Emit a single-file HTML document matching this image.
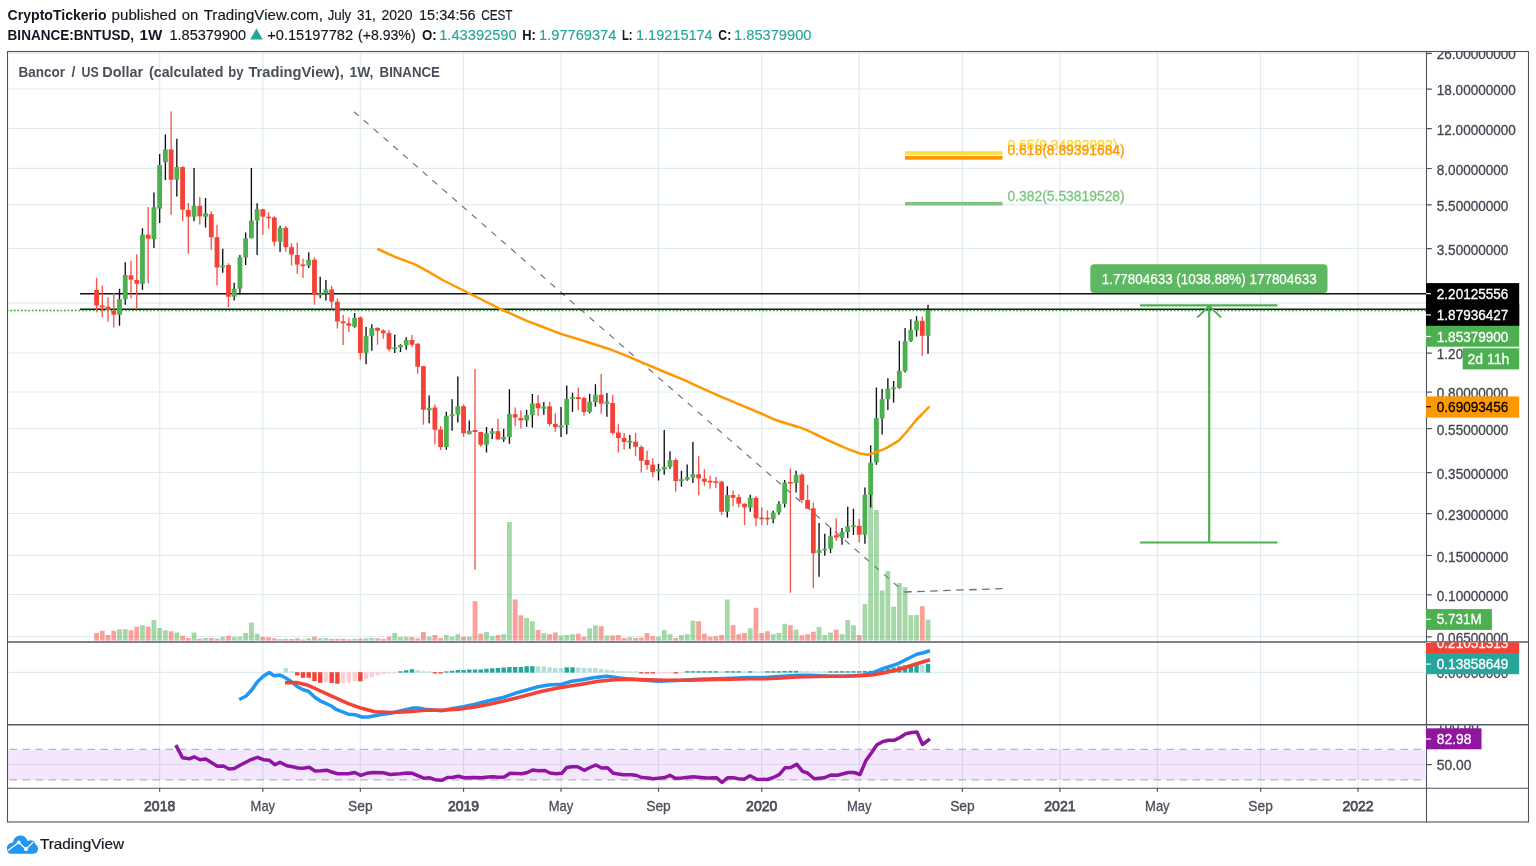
<!DOCTYPE html>
<html lang="en"><head><meta charset="utf-8"><title>BNTUSD chart</title>
<style>html,body{margin:0;padding:0;background:#fff;}body{width:1536px;height:866px;overflow:hidden;}svg{display:block;}</style></head>
<body>
<svg width="1536" height="866" viewBox="0 0 1536 866" font-family='"Liberation Sans", sans-serif'>
<defs><clipPath id="cm"><rect x="7.5" y="51.5" width="1419.0" height="590.5"/></clipPath><clipPath id="ca1"><rect x="1426.5" y="52.0" width="102.0" height="589.5"/></clipPath><clipPath id="ca2"><rect x="1425.5" y="642.6" width="102.0" height="81.79999999999995"/></clipPath><clipPath id="ca3"><rect x="1426.5" y="725.5" width="102.0" height="62.40000000000009"/></clipPath></defs>
<rect x="0" y="0" width="1536" height="866" fill="#fff"/>
<g stroke="#e1ecf2" stroke-width="1.2">
<line x1="159.65" y1="51.5" x2="159.65" y2="788.2"/>
<line x1="262.86" y1="51.5" x2="262.86" y2="788.2"/>
<line x1="360.34" y1="51.5" x2="360.34" y2="788.2"/>
<line x1="463.55" y1="51.5" x2="463.55" y2="788.2"/>
<line x1="561.03" y1="51.5" x2="561.03" y2="788.2"/>
<line x1="658.51" y1="51.5" x2="658.51" y2="788.2"/>
<line x1="761.72" y1="51.5" x2="761.72" y2="788.2"/>
<line x1="859.2" y1="51.5" x2="859.2" y2="788.2"/>
<line x1="962.41" y1="51.5" x2="962.41" y2="788.2"/>
<line x1="1059.89" y1="51.5" x2="1059.89" y2="788.2"/>
<line x1="1157.37" y1="51.5" x2="1157.37" y2="788.2"/>
<line x1="1260.58" y1="51.5" x2="1260.58" y2="788.2"/>
<line x1="1358.06" y1="51.5" x2="1358.06" y2="788.2"/>
<line x1="7.5" y1="53.1" x2="1426.5" y2="53.1"/>
<line x1="7.5" y1="89" x2="1426.5" y2="89"/>
<line x1="7.5" y1="128.5" x2="1426.5" y2="128.5"/>
<line x1="7.5" y1="168.3" x2="1426.5" y2="168.3"/>
<line x1="7.5" y1="204.7" x2="1426.5" y2="204.7"/>
<line x1="7.5" y1="248.5" x2="1426.5" y2="248.5"/>
<line x1="7.5" y1="303.1" x2="1426.5" y2="303.1"/>
<line x1="7.5" y1="353" x2="1426.5" y2="353"/>
<line x1="7.5" y1="392" x2="1426.5" y2="392"/>
<line x1="7.5" y1="428.3" x2="1426.5" y2="428.3"/>
<line x1="7.5" y1="472.5" x2="1426.5" y2="472.5"/>
<line x1="7.5" y1="513.5" x2="1426.5" y2="513.5"/>
<line x1="7.5" y1="555.3" x2="1426.5" y2="555.3"/>
<line x1="7.5" y1="594.5" x2="1426.5" y2="594.5"/>
<line x1="7.5" y1="636.5" x2="1426.5" y2="636.5"/>
<line x1="7.5" y1="672.3" x2="1426.5" y2="672.3"/>
</g>
<rect x="7.5" y="749.6" width="1417.5" height="30.4" fill="#f4e6fd"/>
<line x1="7.5" y1="764.4" x2="1426.5" y2="764.4" stroke="#d9d5f3" stroke-width="1"/>
<g stroke="#d7d2ee" stroke-width="1.2">
<line x1="159.65" y1="749.6" x2="159.65" y2="780"/>
<line x1="262.86" y1="749.6" x2="262.86" y2="780"/>
<line x1="360.34" y1="749.6" x2="360.34" y2="780"/>
<line x1="463.55" y1="749.6" x2="463.55" y2="780"/>
<line x1="561.03" y1="749.6" x2="561.03" y2="780"/>
<line x1="658.51" y1="749.6" x2="658.51" y2="780"/>
<line x1="761.72" y1="749.6" x2="761.72" y2="780"/>
<line x1="859.2" y1="749.6" x2="859.2" y2="780"/>
<line x1="962.41" y1="749.6" x2="962.41" y2="780"/>
<line x1="1059.89" y1="749.6" x2="1059.89" y2="780"/>
<line x1="1157.37" y1="749.6" x2="1157.37" y2="780"/>
<line x1="1260.58" y1="749.6" x2="1260.58" y2="780"/>
<line x1="1358.06" y1="749.6" x2="1358.06" y2="780"/>
</g>
<line x1="7.5" y1="749.4" x2="1425.5" y2="749.4" stroke="#b9b4bd" stroke-width="1.2" stroke-dasharray="7.5 5.5" stroke-dashoffset="-2"/>
<line x1="7.5" y1="779.9" x2="1425.5" y2="779.9" stroke="#b9b4bd" stroke-width="1.2" stroke-dasharray="7.5 5.5" stroke-dashoffset="-2"/>
<line x1="354" y1="111.7" x2="904.2" y2="592" stroke="#6c6f7a" stroke-width="1.15" stroke-dasharray="6.3 6.73"/>
<line x1="904.2" y1="592" x2="1002.5" y2="588.6" stroke="#6c6f7a" stroke-width="1.3" stroke-dasharray="7.5 5.5"/>
<g>
<rect x="94.18" y="633" width="4.8" height="7.6" fill="rgba(244,67,54,0.5)"/>
<rect x="99.91" y="630.8" width="4.8" height="9.8" fill="rgba(244,67,54,0.5)"/>
<rect x="105.64" y="635" width="4.8" height="5.6" fill="rgba(244,67,54,0.5)"/>
<rect x="111.38" y="630.8" width="4.8" height="9.8" fill="rgba(244,67,54,0.5)"/>
<rect x="117.11" y="629.2" width="4.8" height="11.4" fill="rgba(76,175,80,0.5)"/>
<rect x="122.85" y="629.2" width="4.8" height="11.4" fill="rgba(76,175,80,0.5)"/>
<rect x="128.58" y="630.3" width="4.8" height="10.3" fill="rgba(244,67,54,0.5)"/>
<rect x="134.31" y="626.7" width="4.8" height="13.9" fill="rgba(244,67,54,0.5)"/>
<rect x="140.05" y="625.3" width="4.8" height="15.3" fill="rgba(76,175,80,0.5)"/>
<rect x="145.78" y="626.7" width="4.8" height="13.9" fill="rgba(244,67,54,0.5)"/>
<rect x="151.52" y="620" width="4.8" height="20.6" fill="rgba(76,175,80,0.5)"/>
<rect x="157.25" y="628" width="4.8" height="12.6" fill="rgba(76,175,80,0.5)"/>
<rect x="162.98" y="630.3" width="4.8" height="10.3" fill="rgba(76,175,80,0.5)"/>
<rect x="168.72" y="631.3" width="4.8" height="9.3" fill="rgba(244,67,54,0.5)"/>
<rect x="174.45" y="632.5" width="4.8" height="8.1" fill="rgba(76,175,80,0.5)"/>
<rect x="180.19" y="635.8" width="4.8" height="4.8" fill="rgba(244,67,54,0.5)"/>
<rect x="185.92" y="638" width="4.8" height="2.6" fill="rgba(244,67,54,0.5)"/>
<rect x="191.65" y="632.5" width="4.8" height="8.1" fill="rgba(76,175,80,0.5)"/>
<rect x="197.39" y="638.7" width="4.8" height="1.9" fill="rgba(244,67,54,0.5)"/>
<rect x="203.12" y="638" width="4.8" height="2.6" fill="rgba(76,175,80,0.5)"/>
<rect x="208.86" y="638" width="4.8" height="2.6" fill="rgba(244,67,54,0.5)"/>
<rect x="214.59" y="638.7" width="4.8" height="1.9" fill="rgba(244,67,54,0.5)"/>
<rect x="220.32" y="636.7" width="4.8" height="3.9" fill="rgba(76,175,80,0.5)"/>
<rect x="226.06" y="635.8" width="4.8" height="4.8" fill="rgba(244,67,54,0.5)"/>
<rect x="231.79" y="637" width="4.8" height="3.6" fill="rgba(76,175,80,0.5)"/>
<rect x="237.53" y="636.7" width="4.8" height="3.9" fill="rgba(76,175,80,0.5)"/>
<rect x="243.26" y="633" width="4.8" height="7.6" fill="rgba(76,175,80,0.5)"/>
<rect x="248.99" y="622.5" width="4.8" height="18.1" fill="rgba(76,175,80,0.5)"/>
<rect x="254.73" y="633.8" width="4.8" height="6.8" fill="rgba(76,175,80,0.5)"/>
<rect x="260.46" y="636.7" width="4.8" height="3.9" fill="rgba(244,67,54,0.5)"/>
<rect x="266.2" y="637.2" width="4.8" height="3.4" fill="rgba(244,67,54,0.5)"/>
<rect x="271.93" y="638.3" width="4.8" height="2.3" fill="rgba(244,67,54,0.5)"/>
<rect x="277.66" y="639" width="4.8" height="1.6" fill="rgba(76,175,80,0.5)"/>
<rect x="283.4" y="639" width="4.8" height="1.6" fill="rgba(244,67,54,0.5)"/>
<rect x="289.13" y="639" width="4.8" height="1.6" fill="rgba(244,67,54,0.5)"/>
<rect x="294.87" y="638.3" width="4.8" height="2.3" fill="rgba(244,67,54,0.5)"/>
<rect x="300.6" y="639.5" width="4.8" height="1.1" fill="rgba(244,67,54,0.5)"/>
<rect x="306.33" y="638.3" width="4.8" height="2.3" fill="rgba(76,175,80,0.5)"/>
<rect x="312.07" y="636.7" width="4.8" height="3.9" fill="rgba(244,67,54,0.5)"/>
<rect x="317.8" y="638.3" width="4.8" height="2.3" fill="rgba(76,175,80,0.5)"/>
<rect x="323.54" y="638" width="4.8" height="2.6" fill="rgba(76,175,80,0.5)"/>
<rect x="329.27" y="638.8" width="4.8" height="1.8" fill="rgba(244,67,54,0.5)"/>
<rect x="335" y="638.8" width="4.8" height="1.8" fill="rgba(244,67,54,0.5)"/>
<rect x="340.74" y="638.8" width="4.8" height="1.8" fill="rgba(244,67,54,0.5)"/>
<rect x="346.47" y="639.2" width="4.8" height="1.4" fill="rgba(244,67,54,0.5)"/>
<rect x="352.21" y="638.8" width="4.8" height="1.8" fill="rgba(76,175,80,0.5)"/>
<rect x="357.94" y="638.7" width="4.8" height="1.9" fill="rgba(244,67,54,0.5)"/>
<rect x="363.67" y="638.3" width="4.8" height="2.3" fill="rgba(76,175,80,0.5)"/>
<rect x="369.41" y="637.8" width="4.8" height="2.8" fill="rgba(76,175,80,0.5)"/>
<rect x="375.14" y="638.3" width="4.8" height="2.3" fill="rgba(244,67,54,0.5)"/>
<rect x="380.88" y="638.8" width="4.8" height="1.8" fill="rgba(244,67,54,0.5)"/>
<rect x="386.61" y="636.7" width="4.8" height="3.9" fill="rgba(244,67,54,0.5)"/>
<rect x="392.34" y="633" width="4.8" height="7.6" fill="rgba(76,175,80,0.5)"/>
<rect x="398.08" y="637" width="4.8" height="3.6" fill="rgba(76,175,80,0.5)"/>
<rect x="403.81" y="636.7" width="4.8" height="3.9" fill="rgba(76,175,80,0.5)"/>
<rect x="409.55" y="637" width="4.8" height="3.6" fill="rgba(244,67,54,0.5)"/>
<rect x="415.28" y="638.3" width="4.8" height="2.3" fill="rgba(244,67,54,0.5)"/>
<rect x="421.01" y="632" width="4.8" height="8.6" fill="rgba(244,67,54,0.5)"/>
<rect x="426.75" y="636.7" width="4.8" height="3.9" fill="rgba(76,175,80,0.5)"/>
<rect x="432.48" y="635" width="4.8" height="5.6" fill="rgba(244,67,54,0.5)"/>
<rect x="438.22" y="638" width="4.8" height="2.6" fill="rgba(244,67,54,0.5)"/>
<rect x="443.95" y="635" width="4.8" height="5.6" fill="rgba(76,175,80,0.5)"/>
<rect x="449.68" y="636.7" width="4.8" height="3.9" fill="rgba(76,175,80,0.5)"/>
<rect x="455.42" y="634.2" width="4.8" height="6.4" fill="rgba(76,175,80,0.5)"/>
<rect x="461.15" y="636.7" width="4.8" height="3.9" fill="rgba(244,67,54,0.5)"/>
<rect x="466.89" y="636.7" width="4.8" height="3.9" fill="rgba(76,175,80,0.5)"/>
<rect x="472.62" y="601.2" width="4.8" height="39.4" fill="rgba(244,67,54,0.5)"/>
<rect x="478.35" y="633.7" width="4.8" height="6.9" fill="rgba(244,67,54,0.5)"/>
<rect x="484.09" y="632" width="4.8" height="8.6" fill="rgba(76,175,80,0.5)"/>
<rect x="489.82" y="636.2" width="4.8" height="4.4" fill="rgba(76,175,80,0.5)"/>
<rect x="495.56" y="635" width="4.8" height="5.6" fill="rgba(244,67,54,0.5)"/>
<rect x="501.29" y="634.2" width="4.8" height="6.4" fill="rgba(76,175,80,0.5)"/>
<rect x="507.02" y="522" width="4.8" height="118.6" fill="rgba(76,175,80,0.5)"/>
<rect x="512.76" y="599.5" width="4.8" height="41.1" fill="rgba(244,67,54,0.5)"/>
<rect x="518.49" y="615.3" width="4.8" height="25.3" fill="rgba(244,67,54,0.5)"/>
<rect x="524.23" y="618" width="4.8" height="22.6" fill="rgba(76,175,80,0.5)"/>
<rect x="529.96" y="621.3" width="4.8" height="19.3" fill="rgba(76,175,80,0.5)"/>
<rect x="535.69" y="630" width="4.8" height="10.6" fill="rgba(244,67,54,0.5)"/>
<rect x="541.43" y="633" width="4.8" height="7.6" fill="rgba(76,175,80,0.5)"/>
<rect x="547.16" y="634.2" width="4.8" height="6.4" fill="rgba(244,67,54,0.5)"/>
<rect x="552.9" y="632.5" width="4.8" height="8.1" fill="rgba(244,67,54,0.5)"/>
<rect x="558.63" y="635.5" width="4.8" height="5.1" fill="rgba(76,175,80,0.5)"/>
<rect x="564.36" y="635" width="4.8" height="5.6" fill="rgba(76,175,80,0.5)"/>
<rect x="570.1" y="634.2" width="4.8" height="6.4" fill="rgba(76,175,80,0.5)"/>
<rect x="575.83" y="633.7" width="4.8" height="6.9" fill="rgba(244,67,54,0.5)"/>
<rect x="581.57" y="636.7" width="4.8" height="3.9" fill="rgba(244,67,54,0.5)"/>
<rect x="587.3" y="628.3" width="4.8" height="12.3" fill="rgba(76,175,80,0.5)"/>
<rect x="593.03" y="625.3" width="4.8" height="15.3" fill="rgba(76,175,80,0.5)"/>
<rect x="598.77" y="626.2" width="4.8" height="14.4" fill="rgba(244,67,54,0.5)"/>
<rect x="604.5" y="635.5" width="4.8" height="5.1" fill="rgba(76,175,80,0.5)"/>
<rect x="610.24" y="635.5" width="4.8" height="5.1" fill="rgba(244,67,54,0.5)"/>
<rect x="615.97" y="635" width="4.8" height="5.6" fill="rgba(244,67,54,0.5)"/>
<rect x="621.7" y="638" width="4.8" height="2.6" fill="rgba(244,67,54,0.5)"/>
<rect x="627.44" y="637.2" width="4.8" height="3.4" fill="rgba(76,175,80,0.5)"/>
<rect x="633.17" y="638" width="4.8" height="2.6" fill="rgba(244,67,54,0.5)"/>
<rect x="638.91" y="637.5" width="4.8" height="3.1" fill="rgba(244,67,54,0.5)"/>
<rect x="644.64" y="633" width="4.8" height="7.6" fill="rgba(244,67,54,0.5)"/>
<rect x="650.37" y="636.2" width="4.8" height="4.4" fill="rgba(244,67,54,0.5)"/>
<rect x="656.11" y="636.7" width="4.8" height="3.9" fill="rgba(76,175,80,0.5)"/>
<rect x="661.84" y="630" width="4.8" height="10.6" fill="rgba(76,175,80,0.5)"/>
<rect x="667.58" y="634.2" width="4.8" height="6.4" fill="rgba(76,175,80,0.5)"/>
<rect x="673.31" y="638" width="4.8" height="2.6" fill="rgba(244,67,54,0.5)"/>
<rect x="679.04" y="635" width="4.8" height="5.6" fill="rgba(76,175,80,0.5)"/>
<rect x="684.78" y="634.2" width="4.8" height="6.4" fill="rgba(76,175,80,0.5)"/>
<rect x="690.51" y="620.8" width="4.8" height="19.8" fill="rgba(76,175,80,0.5)"/>
<rect x="696.25" y="621.3" width="4.8" height="19.3" fill="rgba(244,67,54,0.5)"/>
<rect x="701.98" y="633.7" width="4.8" height="6.9" fill="rgba(244,67,54,0.5)"/>
<rect x="707.71" y="636.7" width="4.8" height="3.9" fill="rgba(244,67,54,0.5)"/>
<rect x="713.45" y="636.2" width="4.8" height="4.4" fill="rgba(244,67,54,0.5)"/>
<rect x="719.18" y="635" width="4.8" height="5.6" fill="rgba(244,67,54,0.5)"/>
<rect x="724.92" y="599.5" width="4.8" height="41.1" fill="rgba(76,175,80,0.5)"/>
<rect x="730.65" y="625" width="4.8" height="15.6" fill="rgba(244,67,54,0.5)"/>
<rect x="736.38" y="634.2" width="4.8" height="6.4" fill="rgba(244,67,54,0.5)"/>
<rect x="742.12" y="633" width="4.8" height="7.6" fill="rgba(244,67,54,0.5)"/>
<rect x="747.85" y="628.3" width="4.8" height="12.3" fill="rgba(76,175,80,0.5)"/>
<rect x="753.59" y="607.8" width="4.8" height="32.8" fill="rgba(244,67,54,0.5)"/>
<rect x="759.32" y="633" width="4.8" height="7.6" fill="rgba(244,67,54,0.5)"/>
<rect x="765.05" y="631.2" width="4.8" height="9.4" fill="rgba(244,67,54,0.5)"/>
<rect x="770.79" y="634.2" width="4.8" height="6.4" fill="rgba(76,175,80,0.5)"/>
<rect x="776.52" y="633" width="4.8" height="7.6" fill="rgba(76,175,80,0.5)"/>
<rect x="782.26" y="623.8" width="4.8" height="16.8" fill="rgba(76,175,80,0.5)"/>
<rect x="787.99" y="625.3" width="4.8" height="15.3" fill="rgba(244,67,54,0.5)"/>
<rect x="793.72" y="629.7" width="4.8" height="10.9" fill="rgba(76,175,80,0.5)"/>
<rect x="799.46" y="635.3" width="4.8" height="5.3" fill="rgba(244,67,54,0.5)"/>
<rect x="805.19" y="634.2" width="4.8" height="6.4" fill="rgba(244,67,54,0.5)"/>
<rect x="810.93" y="631.7" width="4.8" height="8.9" fill="rgba(244,67,54,0.5)"/>
<rect x="816.66" y="627" width="4.8" height="13.6" fill="rgba(76,175,80,0.5)"/>
<rect x="822.39" y="635" width="4.8" height="5.6" fill="rgba(76,175,80,0.5)"/>
<rect x="828.13" y="632.5" width="4.8" height="8.1" fill="rgba(76,175,80,0.5)"/>
<rect x="833.86" y="629.7" width="4.8" height="10.9" fill="rgba(244,67,54,0.5)"/>
<rect x="839.6" y="634.2" width="4.8" height="6.4" fill="rgba(76,175,80,0.5)"/>
<rect x="845.33" y="620" width="4.8" height="20.6" fill="rgba(76,175,80,0.5)"/>
<rect x="851.06" y="625.3" width="4.8" height="15.3" fill="rgba(76,175,80,0.5)"/>
<rect x="856.8" y="635" width="4.8" height="5.6" fill="rgba(244,67,54,0.5)"/>
<rect x="862.53" y="604.2" width="4.8" height="36.4" fill="rgba(76,175,80,0.5)"/>
<rect x="868.27" y="492" width="4.8" height="148.6" fill="rgba(76,175,80,0.5)"/>
<rect x="874" y="510" width="4.8" height="130.6" fill="rgba(76,175,80,0.5)"/>
<rect x="879.73" y="590.5" width="4.8" height="50.1" fill="rgba(76,175,80,0.5)"/>
<rect x="885.47" y="571.2" width="4.8" height="69.4" fill="rgba(76,175,80,0.5)"/>
<rect x="891.2" y="606.7" width="4.8" height="33.9" fill="rgba(76,175,80,0.5)"/>
<rect x="896.94" y="583" width="4.8" height="57.6" fill="rgba(76,175,80,0.5)"/>
<rect x="902.67" y="587.2" width="4.8" height="53.4" fill="rgba(76,175,80,0.5)"/>
<rect x="908.4" y="615" width="4.8" height="25.6" fill="rgba(76,175,80,0.5)"/>
<rect x="914.14" y="615" width="4.8" height="25.6" fill="rgba(76,175,80,0.5)"/>
<rect x="919.87" y="606.2" width="4.8" height="34.4" fill="rgba(244,67,54,0.5)"/>
<rect x="925.61" y="619.7" width="4.8" height="20.9" fill="rgba(76,175,80,0.5)"/>
</g>
<line x1="80" y1="293.7" x2="1426.5" y2="293.7" stroke="#111" stroke-width="1.35"/>
<line x1="80" y1="309.25" x2="1426.5" y2="309.25" stroke="#111" stroke-width="1.45"/>
<line x1="7.5" y1="310.5" x2="1426.5" y2="310.5" stroke="#35a53a" stroke-width="1.3" stroke-dasharray="1.8 1.78" stroke-dashoffset="0.8"/>
<g clip-path="url(#cm)">
<g stroke-width="1.35">
<line x1="96.58" y1="277.8" x2="96.58" y2="312.5" stroke="#f5554a"/>
<line x1="102.31" y1="285.5" x2="102.31" y2="317" stroke="#f5554a"/>
<line x1="108.04" y1="297.2" x2="108.04" y2="321.7" stroke="#f5554a"/>
<line x1="113.78" y1="293" x2="113.78" y2="327.5" stroke="#f5554a"/>
<line x1="119.51" y1="288.7" x2="119.51" y2="325.8" stroke="#0d0f14"/>
<line x1="125.25" y1="262.2" x2="125.25" y2="304.7" stroke="#0d0f14"/>
<line x1="130.98" y1="260.8" x2="130.98" y2="298.3" stroke="#f5554a"/>
<line x1="136.71" y1="254.2" x2="136.71" y2="309.3" stroke="#f5554a"/>
<line x1="142.45" y1="228.3" x2="142.45" y2="289.7" stroke="#0d0f14"/>
<line x1="148.18" y1="207" x2="148.18" y2="283.3" stroke="#f5554a"/>
<line x1="153.92" y1="192.5" x2="153.92" y2="248" stroke="#0d0f14"/>
<line x1="159.65" y1="154.1" x2="159.65" y2="223" stroke="#0d0f14"/>
<line x1="165.38" y1="134.4" x2="165.38" y2="180" stroke="#0d0f14"/>
<line x1="171.12" y1="111.5" x2="171.12" y2="214.7" stroke="#f5554a"/>
<line x1="176.85" y1="138.75" x2="176.85" y2="196.6" stroke="#0d0f14"/>
<line x1="182.59" y1="166.25" x2="182.59" y2="221.3" stroke="#f5554a"/>
<line x1="188.32" y1="203.1" x2="188.32" y2="253.7" stroke="#f5554a"/>
<line x1="194.05" y1="167.9" x2="194.05" y2="221.3" stroke="#0d0f14"/>
<line x1="199.79" y1="196.9" x2="199.79" y2="224.5" stroke="#f5554a"/>
<line x1="205.52" y1="198.1" x2="205.52" y2="227.5" stroke="#0d0f14"/>
<line x1="211.26" y1="211.2" x2="211.26" y2="249.7" stroke="#f5554a"/>
<line x1="216.99" y1="224.7" x2="216.99" y2="285.3" stroke="#f5554a"/>
<line x1="222.72" y1="248.8" x2="222.72" y2="272.8" stroke="#0d0f14"/>
<line x1="228.46" y1="263.3" x2="228.46" y2="307.2" stroke="#f5554a"/>
<line x1="234.19" y1="282.8" x2="234.19" y2="300.5" stroke="#0d0f14"/>
<line x1="239.93" y1="255" x2="239.93" y2="294.7" stroke="#0d0f14"/>
<line x1="245.66" y1="232.5" x2="245.66" y2="265" stroke="#0d0f14"/>
<line x1="251.39" y1="167.9" x2="251.39" y2="238.3" stroke="#0d0f14"/>
<line x1="257.13" y1="203.3" x2="257.13" y2="255" stroke="#0d0f14"/>
<line x1="262.86" y1="208.7" x2="262.86" y2="234.7" stroke="#f5554a"/>
<line x1="268.6" y1="212.2" x2="268.6" y2="228.7" stroke="#f5554a"/>
<line x1="274.33" y1="216.3" x2="274.33" y2="246.3" stroke="#f5554a"/>
<line x1="280.06" y1="225.8" x2="280.06" y2="252" stroke="#0d0f14"/>
<line x1="285.8" y1="225.8" x2="285.8" y2="251.7" stroke="#f5554a"/>
<line x1="291.53" y1="243.3" x2="291.53" y2="265.5" stroke="#f5554a"/>
<line x1="297.27" y1="242.5" x2="297.27" y2="273.8" stroke="#f5554a"/>
<line x1="303" y1="258.8" x2="303" y2="278" stroke="#f5554a"/>
<line x1="308.73" y1="252.2" x2="308.73" y2="268" stroke="#0d0f14"/>
<line x1="314.47" y1="257.5" x2="314.47" y2="304.7" stroke="#f5554a"/>
<line x1="320.2" y1="276.7" x2="320.2" y2="298.3" stroke="#0d0f14"/>
<line x1="325.94" y1="280" x2="325.94" y2="300.5" stroke="#0d0f14"/>
<line x1="331.67" y1="285.8" x2="331.67" y2="309.2" stroke="#f5554a"/>
<line x1="337.4" y1="298.3" x2="337.4" y2="328.5" stroke="#f5554a"/>
<line x1="343.14" y1="315" x2="343.14" y2="345" stroke="#f5554a"/>
<line x1="348.87" y1="317.5" x2="348.87" y2="332" stroke="#f5554a"/>
<line x1="354.61" y1="313" x2="354.61" y2="327.7" stroke="#0d0f14"/>
<line x1="360.34" y1="316.3" x2="360.34" y2="359.7" stroke="#f5554a"/>
<line x1="366.07" y1="327" x2="366.07" y2="364.2" stroke="#0d0f14"/>
<line x1="371.81" y1="324.2" x2="371.81" y2="350.8" stroke="#0d0f14"/>
<line x1="377.54" y1="327" x2="377.54" y2="344.7" stroke="#f5554a"/>
<line x1="383.28" y1="329.2" x2="383.28" y2="338.7" stroke="#f5554a"/>
<line x1="389.01" y1="330" x2="389.01" y2="351.3" stroke="#f5554a"/>
<line x1="394.74" y1="334.7" x2="394.74" y2="353" stroke="#0d0f14"/>
<line x1="400.48" y1="344.2" x2="400.48" y2="352" stroke="#0d0f14"/>
<line x1="406.21" y1="337.2" x2="406.21" y2="349.7" stroke="#0d0f14"/>
<line x1="411.95" y1="335" x2="411.95" y2="346.7" stroke="#f5554a"/>
<line x1="417.68" y1="343" x2="417.68" y2="373.7" stroke="#f5554a"/>
<line x1="423.41" y1="365.8" x2="423.41" y2="424.7" stroke="#f5554a"/>
<line x1="429.15" y1="395.6" x2="429.15" y2="423.3" stroke="#0d0f14"/>
<line x1="434.88" y1="404.5" x2="434.88" y2="444.2" stroke="#f5554a"/>
<line x1="440.62" y1="426" x2="440.62" y2="450" stroke="#f5554a"/>
<line x1="446.35" y1="411.7" x2="446.35" y2="449.7" stroke="#0d0f14"/>
<line x1="452.08" y1="399.2" x2="452.08" y2="430.8" stroke="#0d0f14"/>
<line x1="457.82" y1="376.5" x2="457.82" y2="422.5" stroke="#0d0f14"/>
<line x1="463.55" y1="404.5" x2="463.55" y2="436.7" stroke="#f5554a"/>
<line x1="469.29" y1="420.5" x2="469.29" y2="434.2" stroke="#0d0f14"/>
<line x1="475.02" y1="369" x2="475.02" y2="569.7" stroke="#f5554a"/>
<line x1="480.75" y1="431.7" x2="480.75" y2="446.7" stroke="#f5554a"/>
<line x1="486.49" y1="427.1" x2="486.49" y2="452.5" stroke="#0d0f14"/>
<line x1="492.22" y1="428.2" x2="492.22" y2="439.2" stroke="#0d0f14"/>
<line x1="497.96" y1="418.8" x2="497.96" y2="439.5" stroke="#f5554a"/>
<line x1="503.69" y1="428.8" x2="503.69" y2="442" stroke="#0d0f14"/>
<line x1="509.42" y1="389.2" x2="509.42" y2="443.8" stroke="#0d0f14"/>
<line x1="515.16" y1="407.5" x2="515.16" y2="426.3" stroke="#f5554a"/>
<line x1="520.89" y1="410.4" x2="520.89" y2="428.5" stroke="#f5554a"/>
<line x1="526.63" y1="409.8" x2="526.63" y2="426.8" stroke="#0d0f14"/>
<line x1="532.36" y1="394" x2="532.36" y2="427.6" stroke="#0d0f14"/>
<line x1="538.09" y1="395" x2="538.09" y2="416.2" stroke="#f5554a"/>
<line x1="543.83" y1="402" x2="543.83" y2="414.8" stroke="#0d0f14"/>
<line x1="549.56" y1="401.7" x2="549.56" y2="426.3" stroke="#f5554a"/>
<line x1="555.3" y1="413.2" x2="555.3" y2="431.8" stroke="#f5554a"/>
<line x1="561.03" y1="407" x2="561.03" y2="437" stroke="#0d0f14"/>
<line x1="566.76" y1="385.5" x2="566.76" y2="434.2" stroke="#0d0f14"/>
<line x1="572.5" y1="392.7" x2="572.5" y2="411.8" stroke="#0d0f14"/>
<line x1="578.23" y1="387.5" x2="578.23" y2="410.2" stroke="#f5554a"/>
<line x1="583.97" y1="396.7" x2="583.97" y2="415.8" stroke="#f5554a"/>
<line x1="589.7" y1="393.8" x2="589.7" y2="413.3" stroke="#0d0f14"/>
<line x1="595.43" y1="384.2" x2="595.43" y2="406.7" stroke="#0d0f14"/>
<line x1="601.17" y1="374" x2="601.17" y2="413.8" stroke="#f5554a"/>
<line x1="606.9" y1="393" x2="606.9" y2="416.7" stroke="#0d0f14"/>
<line x1="612.64" y1="394.7" x2="612.64" y2="434.7" stroke="#f5554a"/>
<line x1="618.37" y1="424.2" x2="618.37" y2="452.5" stroke="#f5554a"/>
<line x1="624.1" y1="433" x2="624.1" y2="449.7" stroke="#f5554a"/>
<line x1="629.84" y1="435" x2="629.84" y2="448.7" stroke="#0d0f14"/>
<line x1="635.57" y1="433" x2="635.57" y2="455.8" stroke="#f5554a"/>
<line x1="641.31" y1="445.3" x2="641.31" y2="472.5" stroke="#f5554a"/>
<line x1="647.04" y1="450.8" x2="647.04" y2="469.7" stroke="#f5554a"/>
<line x1="652.77" y1="458.3" x2="652.77" y2="477.2" stroke="#f5554a"/>
<line x1="658.51" y1="463.8" x2="658.51" y2="480.5" stroke="#0d0f14"/>
<line x1="664.24" y1="430" x2="664.24" y2="474.7" stroke="#0d0f14"/>
<line x1="669.98" y1="451.2" x2="669.98" y2="468.8" stroke="#0d0f14"/>
<line x1="675.71" y1="458.2" x2="675.71" y2="491.8" stroke="#f5554a"/>
<line x1="681.44" y1="470.8" x2="681.44" y2="486.7" stroke="#0d0f14"/>
<line x1="687.18" y1="464.5" x2="687.18" y2="480.8" stroke="#0d0f14"/>
<line x1="692.91" y1="442" x2="692.91" y2="483" stroke="#0d0f14"/>
<line x1="698.65" y1="456.2" x2="698.65" y2="495.3" stroke="#f5554a"/>
<line x1="704.38" y1="469.2" x2="704.38" y2="485.8" stroke="#f5554a"/>
<line x1="710.11" y1="475.8" x2="710.11" y2="488.8" stroke="#f5554a"/>
<line x1="715.85" y1="477" x2="715.85" y2="488" stroke="#f5554a"/>
<line x1="721.58" y1="480.8" x2="721.58" y2="515" stroke="#f5554a"/>
<line x1="727.32" y1="486.3" x2="727.32" y2="517.5" stroke="#0d0f14"/>
<line x1="733.05" y1="490.5" x2="733.05" y2="506.2" stroke="#f5554a"/>
<line x1="738.78" y1="494.2" x2="738.78" y2="507.5" stroke="#f5554a"/>
<line x1="744.52" y1="503.3" x2="744.52" y2="525" stroke="#f5554a"/>
<line x1="750.25" y1="494.7" x2="750.25" y2="511.7" stroke="#0d0f14"/>
<line x1="755.99" y1="496.2" x2="755.99" y2="526.2" stroke="#f5554a"/>
<line x1="761.72" y1="507.5" x2="761.72" y2="525" stroke="#f5554a"/>
<line x1="767.45" y1="510.3" x2="767.45" y2="525.3" stroke="#f5554a"/>
<line x1="773.19" y1="510.8" x2="773.19" y2="523.3" stroke="#0d0f14"/>
<line x1="778.92" y1="501.3" x2="778.92" y2="514.7" stroke="#0d0f14"/>
<line x1="784.66" y1="480" x2="784.66" y2="507.5" stroke="#0d0f14"/>
<line x1="790.39" y1="468.4" x2="790.39" y2="592.8" stroke="#f5554a"/>
<line x1="796.12" y1="470.8" x2="796.12" y2="492.5" stroke="#0d0f14"/>
<line x1="801.86" y1="473.3" x2="801.86" y2="503.3" stroke="#f5554a"/>
<line x1="807.59" y1="485" x2="807.59" y2="508.7" stroke="#f5554a"/>
<line x1="813.33" y1="502.5" x2="813.33" y2="588.3" stroke="#f5554a"/>
<line x1="819.06" y1="523" x2="819.06" y2="576.7" stroke="#0d0f14"/>
<line x1="824.79" y1="533.8" x2="824.79" y2="555.8" stroke="#0d0f14"/>
<line x1="830.53" y1="527.5" x2="830.53" y2="553" stroke="#0d0f14"/>
<line x1="836.26" y1="518.3" x2="836.26" y2="540.8" stroke="#f5554a"/>
<line x1="842" y1="528" x2="842" y2="544.7" stroke="#0d0f14"/>
<line x1="847.73" y1="506.7" x2="847.73" y2="538" stroke="#0d0f14"/>
<line x1="853.46" y1="508.8" x2="853.46" y2="535" stroke="#0d0f14"/>
<line x1="859.2" y1="518.8" x2="859.2" y2="542.5" stroke="#f5554a"/>
<line x1="864.93" y1="487.5" x2="864.93" y2="543.7" stroke="#0d0f14"/>
<line x1="870.67" y1="445.25" x2="870.67" y2="507.5" stroke="#0d0f14"/>
<line x1="876.4" y1="387.5" x2="876.4" y2="464.75" stroke="#0d0f14"/>
<line x1="882.13" y1="389" x2="882.13" y2="434.4" stroke="#0d0f14"/>
<line x1="887.87" y1="378.3" x2="887.87" y2="410" stroke="#0d0f14"/>
<line x1="893.6" y1="381" x2="893.6" y2="402.6" stroke="#0d0f14"/>
<line x1="899.34" y1="340.8" x2="899.34" y2="388.7" stroke="#0d0f14"/>
<line x1="905.07" y1="328" x2="905.07" y2="372.5" stroke="#0d0f14"/>
<line x1="910.8" y1="319.2" x2="910.8" y2="342" stroke="#0d0f14"/>
<line x1="916.54" y1="316.2" x2="916.54" y2="336.7" stroke="#0d0f14"/>
<line x1="922.27" y1="316.7" x2="922.27" y2="355.8" stroke="#f5554a"/>
<line x1="928.01" y1="304.7" x2="928.01" y2="353.8" stroke="#0d0f14"/>
</g>
<rect x="94.18" y="290" width="4.8" height="15.5" fill="#f44336"/>
<rect x="99.91" y="305.5" width="4.8" height="1.6" fill="#f44336"/>
<rect x="105.64" y="306.7" width="4.8" height="3.3" fill="#f44336"/>
<rect x="111.38" y="310.8" width="4.8" height="3.9" fill="#f44336"/>
<rect x="117.11" y="299.2" width="4.8" height="15.5" fill="#4caf50"/>
<rect x="122.85" y="275" width="4.8" height="24.2" fill="#4caf50"/>
<rect x="128.58" y="275.3" width="4.8" height="4.4" fill="#f44336"/>
<rect x="134.31" y="280" width="4.8" height="3.7" fill="#f44336"/>
<rect x="140.05" y="234.7" width="4.8" height="49" fill="#4caf50"/>
<rect x="145.78" y="234.7" width="4.8" height="4" fill="#f44336"/>
<rect x="151.52" y="207.2" width="4.8" height="32" fill="#4caf50"/>
<rect x="157.25" y="165" width="4.8" height="43.7" fill="#4caf50"/>
<rect x="162.98" y="149.4" width="4.8" height="12.7" fill="#4caf50"/>
<rect x="168.72" y="149.4" width="4.8" height="30.35" fill="#f44336"/>
<rect x="174.45" y="167.1" width="4.8" height="12.65" fill="#4caf50"/>
<rect x="180.19" y="167.1" width="4.8" height="42.6" fill="#f44336"/>
<rect x="185.92" y="210" width="4.8" height="6.7" fill="#f44336"/>
<rect x="191.65" y="205.8" width="4.8" height="10.9" fill="#4caf50"/>
<rect x="197.39" y="205.8" width="4.8" height="10.5" fill="#f44336"/>
<rect x="203.12" y="213.3" width="4.8" height="3.4" fill="#4caf50"/>
<rect x="208.86" y="214.2" width="4.8" height="23" fill="#f44336"/>
<rect x="214.59" y="237.2" width="4.8" height="30.3" fill="#f44336"/>
<rect x="220.32" y="265.5" width="4.8" height="2" fill="#4caf50"/>
<rect x="226.06" y="265" width="4.8" height="31.7" fill="#f44336"/>
<rect x="231.79" y="288.7" width="4.8" height="8" fill="#4caf50"/>
<rect x="237.53" y="257.2" width="4.8" height="31.5" fill="#4caf50"/>
<rect x="243.26" y="238.3" width="4.8" height="19.2" fill="#4caf50"/>
<rect x="248.99" y="220.5" width="4.8" height="17.8" fill="#4caf50"/>
<rect x="254.73" y="209.2" width="4.8" height="11.3" fill="#4caf50"/>
<rect x="260.46" y="209.2" width="4.8" height="7.5" fill="#f44336"/>
<rect x="266.2" y="216.7" width="4.8" height="1.6" fill="#f44336"/>
<rect x="271.93" y="217.5" width="4.8" height="24.2" fill="#f44336"/>
<rect x="277.66" y="228" width="4.8" height="13.7" fill="#4caf50"/>
<rect x="283.4" y="227.7" width="4.8" height="19.5" fill="#f44336"/>
<rect x="289.13" y="247.2" width="4.8" height="7.3" fill="#f44336"/>
<rect x="294.87" y="255" width="4.8" height="9.5" fill="#f44336"/>
<rect x="300.6" y="264.5" width="4.8" height="1.6" fill="#f44336"/>
<rect x="306.33" y="259.7" width="4.8" height="5.8" fill="#4caf50"/>
<rect x="312.07" y="259.7" width="4.8" height="35.3" fill="#f44336"/>
<rect x="317.8" y="293.3" width="4.8" height="2" fill="#4caf50"/>
<rect x="323.54" y="289.5" width="4.8" height="4.2" fill="#4caf50"/>
<rect x="329.27" y="289.5" width="4.8" height="12.2" fill="#f44336"/>
<rect x="335" y="301.7" width="4.8" height="19.8" fill="#f44336"/>
<rect x="340.74" y="321.3" width="4.8" height="2" fill="#f44336"/>
<rect x="346.47" y="323.3" width="4.8" height="2.5" fill="#f44336"/>
<rect x="352.21" y="318" width="4.8" height="8.7" fill="#4caf50"/>
<rect x="357.94" y="317.5" width="4.8" height="35.5" fill="#f44336"/>
<rect x="363.67" y="336.2" width="4.8" height="16.8" fill="#4caf50"/>
<rect x="369.41" y="328" width="4.8" height="8.2" fill="#4caf50"/>
<rect x="375.14" y="328" width="4.8" height="2.8" fill="#f44336"/>
<rect x="380.88" y="330.5" width="4.8" height="2.8" fill="#f44336"/>
<rect x="386.61" y="333" width="4.8" height="16.2" fill="#f44336"/>
<rect x="392.34" y="347.2" width="4.8" height="2" fill="#4caf50"/>
<rect x="398.08" y="345" width="4.8" height="2.5" fill="#4caf50"/>
<rect x="403.81" y="340" width="4.8" height="5.3" fill="#4caf50"/>
<rect x="409.55" y="340" width="4.8" height="4.7" fill="#f44336"/>
<rect x="415.28" y="343.7" width="4.8" height="23" fill="#f44336"/>
<rect x="421.01" y="366.2" width="4.8" height="43.5" fill="#f44336"/>
<rect x="426.75" y="407.8" width="4.8" height="2.4" fill="#4caf50"/>
<rect x="432.48" y="407.5" width="4.8" height="22.3" fill="#f44336"/>
<rect x="438.22" y="429.5" width="4.8" height="17.5" fill="#f44336"/>
<rect x="443.95" y="415.8" width="4.8" height="31.2" fill="#4caf50"/>
<rect x="449.68" y="414.2" width="4.8" height="2" fill="#4caf50"/>
<rect x="455.42" y="406.2" width="4.8" height="8.4" fill="#4caf50"/>
<rect x="461.15" y="406.2" width="4.8" height="27.1" fill="#f44336"/>
<rect x="466.89" y="430.8" width="4.8" height="3.4" fill="#4caf50"/>
<rect x="472.62" y="430" width="4.8" height="2" fill="#f44336"/>
<rect x="478.35" y="432" width="4.8" height="12.7" fill="#f44336"/>
<rect x="484.09" y="433.3" width="4.8" height="11.4" fill="#4caf50"/>
<rect x="489.82" y="431.2" width="4.8" height="2.5" fill="#4caf50"/>
<rect x="495.56" y="431.2" width="4.8" height="8.3" fill="#f44336"/>
<rect x="501.29" y="437" width="4.8" height="2.5" fill="#4caf50"/>
<rect x="507.02" y="414.2" width="4.8" height="22.8" fill="#4caf50"/>
<rect x="512.76" y="414.2" width="4.8" height="3.3" fill="#f44336"/>
<rect x="518.49" y="418" width="4.8" height="2.4" fill="#f44336"/>
<rect x="524.23" y="415" width="4.8" height="5.4" fill="#4caf50"/>
<rect x="529.96" y="403.5" width="4.8" height="11.5" fill="#4caf50"/>
<rect x="535.69" y="403.3" width="4.8" height="5" fill="#f44336"/>
<rect x="541.43" y="406.5" width="4.8" height="2.2" fill="#4caf50"/>
<rect x="547.16" y="406.3" width="4.8" height="17.7" fill="#f44336"/>
<rect x="552.9" y="423.8" width="4.8" height="3.3" fill="#f44336"/>
<rect x="558.63" y="425.3" width="4.8" height="2.1" fill="#4caf50"/>
<rect x="564.36" y="399" width="4.8" height="26" fill="#4caf50"/>
<rect x="570.1" y="397.1" width="4.8" height="2" fill="#4caf50"/>
<rect x="575.83" y="397.1" width="4.8" height="1.9" fill="#f44336"/>
<rect x="581.57" y="398" width="4.8" height="14" fill="#f44336"/>
<rect x="587.3" y="401.7" width="4.8" height="10.3" fill="#4caf50"/>
<rect x="593.03" y="394.7" width="4.8" height="7.3" fill="#4caf50"/>
<rect x="598.77" y="394.7" width="4.8" height="9" fill="#f44336"/>
<rect x="604.5" y="401.7" width="4.8" height="2.1" fill="#4caf50"/>
<rect x="610.24" y="403" width="4.8" height="30" fill="#f44336"/>
<rect x="615.97" y="432.5" width="4.8" height="5.5" fill="#f44336"/>
<rect x="621.7" y="438" width="4.8" height="4" fill="#f44336"/>
<rect x="627.44" y="440.8" width="4.8" height="2" fill="#4caf50"/>
<rect x="633.17" y="441.7" width="4.8" height="5" fill="#f44336"/>
<rect x="638.91" y="447" width="4.8" height="13.8" fill="#f44336"/>
<rect x="644.64" y="460" width="4.8" height="5" fill="#f44336"/>
<rect x="650.37" y="464.7" width="4.8" height="7.3" fill="#f44336"/>
<rect x="656.11" y="469.2" width="4.8" height="2.1" fill="#4caf50"/>
<rect x="661.84" y="466.8" width="4.8" height="2.9" fill="#4caf50"/>
<rect x="667.58" y="460.3" width="4.8" height="6.5" fill="#4caf50"/>
<rect x="673.31" y="460" width="4.8" height="21" fill="#f44336"/>
<rect x="679.04" y="479.2" width="4.8" height="2" fill="#4caf50"/>
<rect x="684.78" y="477.2" width="4.8" height="2.5" fill="#4caf50"/>
<rect x="690.51" y="474.2" width="4.8" height="3.3" fill="#4caf50"/>
<rect x="696.25" y="474.2" width="4.8" height="4.1" fill="#f44336"/>
<rect x="701.98" y="478.7" width="4.8" height="3" fill="#f44336"/>
<rect x="707.71" y="480.8" width="4.8" height="1.7" fill="#f44336"/>
<rect x="713.45" y="481.3" width="4.8" height="1.6" fill="#f44336"/>
<rect x="719.18" y="481.7" width="4.8" height="30" fill="#f44336"/>
<rect x="724.92" y="495" width="4.8" height="16.7" fill="#4caf50"/>
<rect x="730.65" y="495" width="4.8" height="2.8" fill="#f44336"/>
<rect x="736.38" y="497.2" width="4.8" height="6.5" fill="#f44336"/>
<rect x="742.12" y="503.7" width="4.8" height="3.5" fill="#f44336"/>
<rect x="747.85" y="497.8" width="4.8" height="9.7" fill="#4caf50"/>
<rect x="753.59" y="497.8" width="4.8" height="20.5" fill="#f44336"/>
<rect x="759.32" y="517.5" width="4.8" height="1.7" fill="#f44336"/>
<rect x="765.05" y="517.8" width="4.8" height="1.6" fill="#f44336"/>
<rect x="770.79" y="512.5" width="4.8" height="6.7" fill="#4caf50"/>
<rect x="776.52" y="504.2" width="4.8" height="8.3" fill="#4caf50"/>
<rect x="782.26" y="482.5" width="4.8" height="21.3" fill="#4caf50"/>
<rect x="787.99" y="482" width="4.8" height="1.6" fill="#f44336"/>
<rect x="793.72" y="474.7" width="4.8" height="8.3" fill="#4caf50"/>
<rect x="799.46" y="474.7" width="4.8" height="25.3" fill="#f44336"/>
<rect x="805.19" y="500" width="4.8" height="8.7" fill="#f44336"/>
<rect x="810.93" y="508.3" width="4.8" height="45" fill="#f44336"/>
<rect x="816.66" y="550" width="4.8" height="3" fill="#4caf50"/>
<rect x="822.39" y="548.7" width="4.8" height="1.6" fill="#4caf50"/>
<rect x="828.13" y="536.3" width="4.8" height="12.4" fill="#4caf50"/>
<rect x="833.86" y="535.3" width="4.8" height="2.2" fill="#f44336"/>
<rect x="839.6" y="531.7" width="4.8" height="6.1" fill="#4caf50"/>
<rect x="845.33" y="526.3" width="4.8" height="5.7" fill="#4caf50"/>
<rect x="851.06" y="525.3" width="4.8" height="1.6" fill="#4caf50"/>
<rect x="856.8" y="525.8" width="4.8" height="8.9" fill="#f44336"/>
<rect x="862.53" y="494.7" width="4.8" height="40" fill="#4caf50"/>
<rect x="868.27" y="462.75" width="4.8" height="31.95" fill="#4caf50"/>
<rect x="874" y="418.1" width="4.8" height="44.4" fill="#4caf50"/>
<rect x="879.73" y="399.1" width="4.8" height="19.4" fill="#4caf50"/>
<rect x="885.47" y="388.6" width="4.8" height="10.4" fill="#4caf50"/>
<rect x="891.2" y="387.5" width="4.8" height="1.6" fill="#4caf50"/>
<rect x="896.94" y="370.8" width="4.8" height="17.2" fill="#4caf50"/>
<rect x="902.67" y="341.3" width="4.8" height="29.9" fill="#4caf50"/>
<rect x="908.4" y="330" width="4.8" height="10.8" fill="#4caf50"/>
<rect x="914.14" y="320.8" width="4.8" height="9.5" fill="#4caf50"/>
<rect x="919.87" y="320.8" width="4.8" height="15" fill="#f44336"/>
<rect x="925.61" y="310" width="4.8" height="25.8" fill="#4caf50"/>
</g>
<polyline points="377.25,248.75 395,256.9 415,264.4 428.75,271.9 442.5,280 457.5,287.5 472.5,295 487.5,302.5 502.5,310 526.25,320.6 541.7,326.5 560,333.6 583.3,340.8 608.3,348.7 626.7,355.8 640,361.7 660,370 683.3,379.7 700,387.3 720.8,396.7 741.7,405.4 761.7,413.75 775,419.8 787.5,423.75 797.5,426.7 807.5,430.4 830,441.25 848.75,449.4 860,453.5 867.5,454.75 875,452.75 886.25,448.1 898.75,440.6 905,433.75 916.25,420 922.5,413.75 929.4,406.5" fill="none" stroke="#ff9800" stroke-width="2.5" stroke-linejoin="round" stroke-linecap="butt"/>
<rect x="905" y="151.2" width="97.5" height="3.6" fill="#fddf3f"/>
<rect x="905" y="155.9" width="97.5" height="3.8" fill="#ff9500"/>
<rect x="905" y="202" width="97.5" height="3.5" fill="#7cc47f"/>
<text x="1007.5" y="149.8" font-size="14" fill="#fdd835" textLength="110" lengthAdjust="spacingAndGlyphs" stroke="#fdd835" stroke-width="0.3">0.65(9.34892992)</text>
<text x="1007.5" y="155.2" font-size="14" fill="#ff9800" textLength="117.2" lengthAdjust="spacingAndGlyphs" stroke="#ff9800" stroke-width="0.3">0.618(8.89391684)</text>
<text x="1007.5" y="200.6" font-size="14" fill="#7cc47f" textLength="117.2" lengthAdjust="spacingAndGlyphs" stroke="#7cc47f" stroke-width="0.3">0.382(5.53819528)</text>
<line x1="1140" y1="305.3" x2="1277.5" y2="305.3" stroke="#4caf50" stroke-width="2.2"/>
<line x1="1140" y1="542.5" x2="1277.5" y2="542.5" stroke="#4caf50" stroke-width="2.2"/>
<line x1="1209.2" y1="305.5" x2="1209.2" y2="542.5" stroke="#4caf50" stroke-width="2.2"/>
<polyline points="1197.2,317.6 1209.2,305.8 1221.2,317.6" fill="none" stroke="#4caf50" stroke-width="2"/>
<rect x="1090.3" y="264.2" width="237.2" height="28.8" rx="4" fill="#5eb762"/>
<text x="1101.7" y="284.3" font-size="14" fill="#fff" textLength="215" lengthAdjust="spacingAndGlyphs" stroke="#fff" stroke-width="0.25">1.77804633 (1038.88%) 177804633</text>
<rect x="283.6" y="668" width="4.4" height="4.65" fill="#b2dfdb"/>
<rect x="289.33" y="671.35" width="4.4" height="1.3" fill="#b2dfdb"/>
<rect x="295.07" y="672.2" width="4.4" height="3.3" fill="#f44336"/>
<rect x="300.8" y="672.2" width="4.4" height="5.6" fill="#f44336"/>
<rect x="306.53" y="672.2" width="4.4" height="5.6" fill="#f44336"/>
<rect x="312.27" y="672.2" width="4.4" height="9" fill="#f44336"/>
<rect x="318" y="672.2" width="4.4" height="10.6" fill="#f44336"/>
<rect x="323.74" y="672.2" width="4.4" height="10.1" fill="#ffcdd2"/>
<rect x="329.47" y="672.2" width="4.4" height="10.8" fill="#f44336"/>
<rect x="335.2" y="672.2" width="4.4" height="11.5" fill="#f44336"/>
<rect x="340.94" y="672.2" width="4.4" height="11.1" fill="#ffcdd2"/>
<rect x="346.67" y="672.2" width="4.4" height="10.3" fill="#ffcdd2"/>
<rect x="352.41" y="672.2" width="4.4" height="9.1" fill="#ffcdd2"/>
<rect x="358.14" y="672.2" width="4.4" height="9.1" fill="#f44336"/>
<rect x="363.87" y="672.2" width="4.4" height="7" fill="#ffcdd2"/>
<rect x="369.61" y="672.2" width="4.4" height="5" fill="#ffcdd2"/>
<rect x="375.34" y="672.2" width="4.4" height="3.3" fill="#ffcdd2"/>
<rect x="381.08" y="672.2" width="4.4" height="2.1" fill="#ffcdd2"/>
<rect x="386.81" y="672.2" width="4.4" height="1.3" fill="#ffcdd2"/>
<rect x="392.54" y="672.2" width="4.4" height="1.3" fill="#ffcdd2"/>
<rect x="398.28" y="671.3" width="4.4" height="1.35" fill="#26a69a"/>
<rect x="404.01" y="670.3" width="4.4" height="2.35" fill="#26a69a"/>
<rect x="409.75" y="669.2" width="4.4" height="3.45" fill="#26a69a"/>
<rect x="415.48" y="670.3" width="4.4" height="2.35" fill="#b2dfdb"/>
<rect x="421.21" y="671.35" width="4.4" height="1.3" fill="#b2dfdb"/>
<rect x="426.95" y="671.35" width="4.4" height="1.3" fill="#b2dfdb"/>
<rect x="432.68" y="672.2" width="4.4" height="1.3" fill="#f44336"/>
<rect x="438.42" y="672.2" width="4.4" height="1.3" fill="#f44336"/>
<rect x="444.15" y="671.35" width="4.4" height="1.3" fill="#26a69a"/>
<rect x="449.88" y="670.8" width="4.4" height="1.85" fill="#26a69a"/>
<rect x="455.62" y="670" width="4.4" height="2.65" fill="#26a69a"/>
<rect x="461.35" y="670" width="4.4" height="2.65" fill="#26a69a"/>
<rect x="467.09" y="669.5" width="4.4" height="3.15" fill="#26a69a"/>
<rect x="472.82" y="669.5" width="4.4" height="3.15" fill="#26a69a"/>
<rect x="478.55" y="669.5" width="4.4" height="3.15" fill="#26a69a"/>
<rect x="484.29" y="668.8" width="4.4" height="3.85" fill="#26a69a"/>
<rect x="490.02" y="668.3" width="4.4" height="4.35" fill="#26a69a"/>
<rect x="495.76" y="668" width="4.4" height="4.65" fill="#26a69a"/>
<rect x="501.49" y="667.5" width="4.4" height="5.15" fill="#26a69a"/>
<rect x="507.22" y="667" width="4.4" height="5.65" fill="#26a69a"/>
<rect x="512.96" y="667" width="4.4" height="5.65" fill="#26a69a"/>
<rect x="518.69" y="667" width="4.4" height="5.65" fill="#26a69a"/>
<rect x="524.43" y="666.2" width="4.4" height="6.45" fill="#26a69a"/>
<rect x="530.16" y="666.2" width="4.4" height="6.45" fill="#26a69a"/>
<rect x="535.89" y="666.3" width="4.4" height="6.35" fill="#b2dfdb"/>
<rect x="541.63" y="666.3" width="4.4" height="6.35" fill="#b2dfdb"/>
<rect x="547.36" y="667.2" width="4.4" height="5.45" fill="#b2dfdb"/>
<rect x="553.1" y="667.8" width="4.4" height="4.85" fill="#b2dfdb"/>
<rect x="558.83" y="668" width="4.4" height="4.65" fill="#b2dfdb"/>
<rect x="564.56" y="667.3" width="4.4" height="5.35" fill="#26a69a"/>
<rect x="570.3" y="667.3" width="4.4" height="5.35" fill="#26a69a"/>
<rect x="576.03" y="667.6" width="4.4" height="5.05" fill="#b2dfdb"/>
<rect x="581.77" y="668" width="4.4" height="4.65" fill="#b2dfdb"/>
<rect x="587.5" y="668" width="4.4" height="4.65" fill="#b2dfdb"/>
<rect x="593.23" y="668" width="4.4" height="4.65" fill="#b2dfdb"/>
<rect x="598.97" y="668.8" width="4.4" height="3.85" fill="#b2dfdb"/>
<rect x="604.7" y="669.7" width="4.4" height="2.95" fill="#b2dfdb"/>
<rect x="610.44" y="670.3" width="4.4" height="2.35" fill="#b2dfdb"/>
<rect x="616.17" y="671.2" width="4.4" height="1.45" fill="#b2dfdb"/>
<rect x="621.9" y="671.35" width="4.4" height="1.3" fill="#b2dfdb"/>
<rect x="627.64" y="671.35" width="4.4" height="1.3" fill="#b2dfdb"/>
<rect x="633.37" y="671.35" width="4.4" height="1.3" fill="#b2dfdb"/>
<rect x="639.11" y="672.2" width="4.4" height="1.3" fill="#f44336"/>
<rect x="644.84" y="672.2" width="4.4" height="1.3" fill="#f44336"/>
<rect x="650.57" y="672.2" width="4.4" height="1.3" fill="#f44336"/>
<rect x="656.31" y="672.2" width="4.4" height="1.3" fill="#ffcdd2"/>
<rect x="662.04" y="672.2" width="4.4" height="1.3" fill="#ffcdd2"/>
<rect x="667.78" y="672.2" width="4.4" height="1.3" fill="#ffcdd2"/>
<rect x="673.51" y="672.2" width="4.4" height="1.3" fill="#f44336"/>
<rect x="679.24" y="672.2" width="4.4" height="1.3" fill="#ffcdd2"/>
<rect x="684.98" y="671.2" width="4.4" height="1.45" fill="#26a69a"/>
<rect x="690.71" y="671.2" width="4.4" height="1.45" fill="#26a69a"/>
<rect x="696.45" y="671.2" width="4.4" height="1.45" fill="#26a69a"/>
<rect x="702.18" y="671.2" width="4.4" height="1.45" fill="#26a69a"/>
<rect x="707.91" y="671.2" width="4.4" height="1.45" fill="#26a69a"/>
<rect x="713.65" y="671.2" width="4.4" height="1.45" fill="#26a69a"/>
<rect x="719.38" y="671.35" width="4.4" height="1.3" fill="#b2dfdb"/>
<rect x="725.12" y="671.2" width="4.4" height="1.45" fill="#26a69a"/>
<rect x="730.85" y="671.2" width="4.4" height="1.45" fill="#26a69a"/>
<rect x="736.58" y="671.2" width="4.4" height="1.45" fill="#26a69a"/>
<rect x="742.32" y="671.35" width="4.4" height="1.3" fill="#b2dfdb"/>
<rect x="748.05" y="671.2" width="4.4" height="1.45" fill="#26a69a"/>
<rect x="753.79" y="671.35" width="4.4" height="1.3" fill="#b2dfdb"/>
<rect x="759.52" y="671.35" width="4.4" height="1.3" fill="#b2dfdb"/>
<rect x="765.25" y="671.2" width="4.4" height="1.45" fill="#26a69a"/>
<rect x="770.99" y="671.2" width="4.4" height="1.45" fill="#26a69a"/>
<rect x="776.72" y="671.2" width="4.4" height="1.45" fill="#26a69a"/>
<rect x="782.46" y="670.9" width="4.4" height="1.75" fill="#26a69a"/>
<rect x="788.19" y="670.9" width="4.4" height="1.75" fill="#26a69a"/>
<rect x="793.92" y="670.9" width="4.4" height="1.75" fill="#26a69a"/>
<rect x="799.66" y="671.2" width="4.4" height="1.45" fill="#b2dfdb"/>
<rect x="805.39" y="671.2" width="4.4" height="1.45" fill="#b2dfdb"/>
<rect x="811.13" y="671.35" width="4.4" height="1.3" fill="#b2dfdb"/>
<rect x="816.86" y="671.35" width="4.4" height="1.3" fill="#b2dfdb"/>
<rect x="822.59" y="671.35" width="4.4" height="1.3" fill="#b2dfdb"/>
<rect x="828.33" y="671.2" width="4.4" height="1.45" fill="#26a69a"/>
<rect x="834.06" y="671.2" width="4.4" height="1.45" fill="#26a69a"/>
<rect x="839.8" y="671.2" width="4.4" height="1.45" fill="#26a69a"/>
<rect x="845.53" y="671.2" width="4.4" height="1.45" fill="#26a69a"/>
<rect x="851.26" y="671.2" width="4.4" height="1.45" fill="#26a69a"/>
<rect x="857" y="671.2" width="4.4" height="1.45" fill="#26a69a"/>
<rect x="862.73" y="671" width="4.4" height="1.65" fill="#26a69a"/>
<rect x="868.47" y="670.8" width="4.4" height="1.85" fill="#26a69a"/>
<rect x="874.2" y="670" width="4.4" height="2.65" fill="#26a69a"/>
<rect x="879.93" y="669.2" width="4.4" height="3.45" fill="#26a69a"/>
<rect x="885.67" y="668.3" width="4.4" height="4.35" fill="#26a69a"/>
<rect x="891.4" y="667.5" width="4.4" height="5.15" fill="#26a69a"/>
<rect x="897.14" y="666.3" width="4.4" height="6.35" fill="#26a69a"/>
<rect x="902.87" y="665.3" width="4.4" height="7.35" fill="#26a69a"/>
<rect x="908.6" y="664.5" width="4.4" height="8.15" fill="#26a69a"/>
<rect x="914.34" y="664.5" width="4.4" height="8.15" fill="#26a69a"/>
<rect x="920.07" y="665" width="4.4" height="7.65" fill="#b2dfdb"/>
<rect x="925.81" y="663.8" width="4.4" height="8.85" fill="#26a69a"/>
<polyline points="239.2,699.5 245.8,696.3 251.7,690 257.5,681.7 263.3,676.3 269.2,672.5 274.2,675.8 280,675 285.8,678 291.7,682 297.5,686.7 303.3,689.7 308.3,691.2 314.2,696.7 320,700.8 325.8,703.3 331.7,706.3 336.7,709.7 348.3,714.2 355,714.7 361.7,717 368.3,717 380,714.7 391.7,713 403.3,710.3 413.3,708 418.3,708 425,709.2 441.7,710.8 451.7,708.7 463.3,706.7 475,704.2 491.7,700 503.3,697.5 515,693.3 526.7,690 538.3,686.7 548.3,685 561.7,684.2 571.7,681.3 581,680 585,679.2 595,677.5 606.7,676.3 620,678 631.7,679.2 645,680.3 658.3,681.3 681.7,680.3 698.3,679.2 715,678.8 731.7,678.3 748.3,677.5 765,677.5 781.7,676.3 798.3,675.3 810,675.3 830,676.3 846.7,676 863.3,675 873.3,672.5 883.3,668.3 896.7,664.2 906.7,659.2 916.7,654.2 923.3,652.8 930,650.8" fill="none" stroke="#2196f3" stroke-width="3.5" stroke-linejoin="round" stroke-linecap="butt"/>
<polyline points="285,682.8 296.7,682.5 308.3,685.3 318.3,690 330,695.3 336.7,698.3 348.3,703.7 361.7,708.3 375,711.7 391.7,712.5 408.3,711.7 425,710.3 441.7,710.3 458.3,709.2 475,707 491.7,703.7 508.3,700 525,695.8 541.7,691.3 558.3,688 571.7,685.8 581.7,684.2 598.3,681.3 615,679.7 631.7,679.2 648.3,679.7 665,680.3 681.7,680.3 698.3,680 715,679.5 731.7,679.2 748.3,678.8 765,678.7 781.7,678 796.7,677 830,676.3 855,676 871.7,675 883.3,673 896.7,670 906.7,667 916.7,663.7 930,659.7" fill="none" stroke="#f44336" stroke-width="3.5" stroke-linejoin="round" stroke-linecap="butt"/>
<polyline points="175.8,745.2 182.5,757.7 189.2,758.8 194.2,756.8 200,759.7 205.8,759 211.7,762.7 217.5,766.3 223.3,766 229.2,769 234.2,768.5 240,765.2 245.8,762.3 251.7,759.3 257.5,757.3 263.3,759.7 269.2,760.2 275,764.8 280,762.3 286.7,765.7 292.5,766.8 298.3,768 303.3,768.2 309.2,767.3 315,771 320.8,770.7 326.7,770.2 331.7,772 337.5,773.7 348.3,773.7 354.7,772.5 360.8,775.3 366.7,773.3 373.3,772.5 383.3,772.8 390,774.5 400,773.7 406.7,773 412.5,773.3 418.3,775.8 424.2,778.3 430,777.8 435,779.7 441.7,780.3 447.5,777.5 453.3,777.2 458.3,776.2 464.2,777.8 475,777.5 481.7,777.8 488.3,777 493.3,776.7 498.3,777.2 504.2,777 510,773.3 521.7,773.7 527.5,772.5 532.5,770 538.3,770.8 545,770.5 550,773 555.8,773.8 561.7,773.3 566.7,767.5 571.7,766.7 577.5,766.7 584.2,770.3 590,767.5 595.8,765 601.7,768 607.5,767.7 613.3,773.3 623.3,774.7 631.7,774.7 636.7,775.5 641.7,777.5 648.3,778 653.3,778.7 665,777.5 670,775.3 675,778.3 681.7,778 693.3,776.7 698.3,777.2 706.7,778 716.7,777.8 722,782.5 727.5,777.8 733.3,777.8 738.3,778.8 744.2,779.2 750,775.8 756.7,779.2 767.5,779.5 773.3,777.5 779.2,774.7 785,767.8 790.8,767.5 796.7,764.2 802.5,771.3 807.5,773 814.2,778.8 824.2,777.8 830.8,775 837.5,775.3 843.3,773.7 848.3,772.5 854.2,772.5 860,774.5 865.8,760.8 871.7,752.5 876.7,745 882.5,741.7 888.3,740.3 894.2,740.3 900,737.5 905.8,733.7 911.7,732.5 917,732 922.5,744.5 930,738.8" fill="none" stroke="#9016a2" stroke-width="3.5" stroke-linejoin="round" stroke-linecap="butt"/>
<g stroke="#4f535f" stroke-width="1.1" fill="none">
<rect x="7.5" y="51.5" width="1521.0" height="770.5"/>
<line x1="1426.5" y1="51.5" x2="1426.5" y2="822"/>
<line x1="7.5" y1="788.2" x2="1528.5" y2="788.2"/>
</g>
<line x1="7.5" y1="642" x2="1528.5" y2="642" stroke="#555964" stroke-width="1.5"/>
<line x1="7.5" y1="724.8" x2="1528.5" y2="724.8" stroke="#555964" stroke-width="1.5"/>
<line x1="159.65" y1="788.2" x2="159.65" y2="791.8" stroke="#4f535f" stroke-width="1.2"/>
<text x="159.65" y="811.4" font-size="14.3" fill="#4a4e5a" text-anchor="middle" textLength="31.2" lengthAdjust="spacingAndGlyphs" stroke="#4a4e5a" stroke-width="0.75">2018</text>
<line x1="262.86" y1="788.2" x2="262.86" y2="791.8" stroke="#4f535f" stroke-width="1.2"/>
<text x="262.86" y="811.4" font-size="14.3" fill="#4a4e5a" text-anchor="middle" textLength="24.5" lengthAdjust="spacingAndGlyphs" stroke="#4a4e5a" stroke-width="0.3">May</text>
<line x1="360.34" y1="788.2" x2="360.34" y2="791.8" stroke="#4f535f" stroke-width="1.2"/>
<text x="360.34" y="811.4" font-size="14.3" fill="#4a4e5a" text-anchor="middle" textLength="24.5" lengthAdjust="spacingAndGlyphs" stroke="#4a4e5a" stroke-width="0.3">Sep</text>
<line x1="463.55" y1="788.2" x2="463.55" y2="791.8" stroke="#4f535f" stroke-width="1.2"/>
<text x="463.55" y="811.4" font-size="14.3" fill="#4a4e5a" text-anchor="middle" textLength="31.2" lengthAdjust="spacingAndGlyphs" stroke="#4a4e5a" stroke-width="0.75">2019</text>
<line x1="561.03" y1="788.2" x2="561.03" y2="791.8" stroke="#4f535f" stroke-width="1.2"/>
<text x="561.03" y="811.4" font-size="14.3" fill="#4a4e5a" text-anchor="middle" textLength="24.5" lengthAdjust="spacingAndGlyphs" stroke="#4a4e5a" stroke-width="0.3">May</text>
<line x1="658.51" y1="788.2" x2="658.51" y2="791.8" stroke="#4f535f" stroke-width="1.2"/>
<text x="658.51" y="811.4" font-size="14.3" fill="#4a4e5a" text-anchor="middle" textLength="24.5" lengthAdjust="spacingAndGlyphs" stroke="#4a4e5a" stroke-width="0.3">Sep</text>
<line x1="761.72" y1="788.2" x2="761.72" y2="791.8" stroke="#4f535f" stroke-width="1.2"/>
<text x="761.72" y="811.4" font-size="14.3" fill="#4a4e5a" text-anchor="middle" textLength="31.2" lengthAdjust="spacingAndGlyphs" stroke="#4a4e5a" stroke-width="0.75">2020</text>
<line x1="859.2" y1="788.2" x2="859.2" y2="791.8" stroke="#4f535f" stroke-width="1.2"/>
<text x="859.2" y="811.4" font-size="14.3" fill="#4a4e5a" text-anchor="middle" textLength="24.5" lengthAdjust="spacingAndGlyphs" stroke="#4a4e5a" stroke-width="0.3">May</text>
<line x1="962.41" y1="788.2" x2="962.41" y2="791.8" stroke="#4f535f" stroke-width="1.2"/>
<text x="962.41" y="811.4" font-size="14.3" fill="#4a4e5a" text-anchor="middle" textLength="24.5" lengthAdjust="spacingAndGlyphs" stroke="#4a4e5a" stroke-width="0.3">Sep</text>
<line x1="1059.89" y1="788.2" x2="1059.89" y2="791.8" stroke="#4f535f" stroke-width="1.2"/>
<text x="1059.89" y="811.4" font-size="14.3" fill="#4a4e5a" text-anchor="middle" textLength="31.2" lengthAdjust="spacingAndGlyphs" stroke="#4a4e5a" stroke-width="0.75">2021</text>
<line x1="1157.37" y1="788.2" x2="1157.37" y2="791.8" stroke="#4f535f" stroke-width="1.2"/>
<text x="1157.37" y="811.4" font-size="14.3" fill="#4a4e5a" text-anchor="middle" textLength="24.5" lengthAdjust="spacingAndGlyphs" stroke="#4a4e5a" stroke-width="0.3">May</text>
<line x1="1260.58" y1="788.2" x2="1260.58" y2="791.8" stroke="#4f535f" stroke-width="1.2"/>
<text x="1260.58" y="811.4" font-size="14.3" fill="#4a4e5a" text-anchor="middle" textLength="24.5" lengthAdjust="spacingAndGlyphs" stroke="#4a4e5a" stroke-width="0.3">Sep</text>
<line x1="1358.06" y1="788.2" x2="1358.06" y2="791.8" stroke="#4f535f" stroke-width="1.2"/>
<text x="1358.06" y="811.4" font-size="14.3" fill="#4a4e5a" text-anchor="middle" textLength="31.2" lengthAdjust="spacingAndGlyphs" stroke="#4a4e5a" stroke-width="0.75">2022</text>
<line x1="1426.5" y1="53.3" x2="1431.8" y2="53.3" stroke="#4f535f" stroke-width="1.2" clip-path="url(#ca1)"/>
<text x="1436.8" y="59.3" font-size="14.5" fill="#434651" textLength="79" lengthAdjust="spacingAndGlyphs" clip-path="url(#ca1)" stroke="#434651" stroke-width="0.3">26.00000000</text>
<line x1="1426.5" y1="89.2" x2="1431.8" y2="89.2" stroke="#4f535f" stroke-width="1.2" clip-path="url(#ca1)"/>
<text x="1436.8" y="95.2" font-size="14.5" fill="#434651" textLength="79" lengthAdjust="spacingAndGlyphs" clip-path="url(#ca1)" stroke="#434651" stroke-width="0.3">18.00000000</text>
<line x1="1426.5" y1="128.7" x2="1431.8" y2="128.7" stroke="#4f535f" stroke-width="1.2" clip-path="url(#ca1)"/>
<text x="1436.8" y="134.7" font-size="14.5" fill="#434651" textLength="79" lengthAdjust="spacingAndGlyphs" clip-path="url(#ca1)" stroke="#434651" stroke-width="0.3">12.00000000</text>
<line x1="1426.5" y1="168.5" x2="1431.8" y2="168.5" stroke="#4f535f" stroke-width="1.2" clip-path="url(#ca1)"/>
<text x="1436.8" y="174.5" font-size="14.5" fill="#434651" textLength="71.6" lengthAdjust="spacingAndGlyphs" clip-path="url(#ca1)" stroke="#434651" stroke-width="0.3">8.00000000</text>
<line x1="1426.5" y1="204.9" x2="1431.8" y2="204.9" stroke="#4f535f" stroke-width="1.2" clip-path="url(#ca1)"/>
<text x="1436.8" y="210.9" font-size="14.5" fill="#434651" textLength="71.6" lengthAdjust="spacingAndGlyphs" clip-path="url(#ca1)" stroke="#434651" stroke-width="0.3">5.50000000</text>
<line x1="1426.5" y1="248.7" x2="1431.8" y2="248.7" stroke="#4f535f" stroke-width="1.2" clip-path="url(#ca1)"/>
<text x="1436.8" y="254.7" font-size="14.5" fill="#434651" textLength="71.6" lengthAdjust="spacingAndGlyphs" clip-path="url(#ca1)" stroke="#434651" stroke-width="0.3">3.50000000</text>
<line x1="1426.5" y1="353.2" x2="1431.8" y2="353.2" stroke="#4f535f" stroke-width="1.2" clip-path="url(#ca1)"/>
<text x="1436.8" y="359.2" font-size="14.5" fill="#434651" textLength="71.6" lengthAdjust="spacingAndGlyphs" clip-path="url(#ca1)" stroke="#434651" stroke-width="0.3">1.20000000</text>
<line x1="1426.5" y1="392.2" x2="1431.8" y2="392.2" stroke="#4f535f" stroke-width="1.2" clip-path="url(#ca1)"/>
<text x="1436.8" y="398.2" font-size="14.5" fill="#434651" textLength="71.6" lengthAdjust="spacingAndGlyphs" clip-path="url(#ca1)" stroke="#434651" stroke-width="0.3">0.80000000</text>
<line x1="1426.5" y1="428.6" x2="1431.8" y2="428.6" stroke="#4f535f" stroke-width="1.2" clip-path="url(#ca1)"/>
<text x="1436.8" y="434.6" font-size="14.5" fill="#434651" textLength="71.6" lengthAdjust="spacingAndGlyphs" clip-path="url(#ca1)" stroke="#434651" stroke-width="0.3">0.55000000</text>
<line x1="1426.5" y1="472.7" x2="1431.8" y2="472.7" stroke="#4f535f" stroke-width="1.2" clip-path="url(#ca1)"/>
<text x="1436.8" y="478.7" font-size="14.5" fill="#434651" textLength="71.6" lengthAdjust="spacingAndGlyphs" clip-path="url(#ca1)" stroke="#434651" stroke-width="0.3">0.35000000</text>
<line x1="1426.5" y1="513.7" x2="1431.8" y2="513.7" stroke="#4f535f" stroke-width="1.2" clip-path="url(#ca1)"/>
<text x="1436.8" y="519.7" font-size="14.5" fill="#434651" textLength="71.6" lengthAdjust="spacingAndGlyphs" clip-path="url(#ca1)" stroke="#434651" stroke-width="0.3">0.23000000</text>
<line x1="1426.5" y1="555.5" x2="1431.8" y2="555.5" stroke="#4f535f" stroke-width="1.2" clip-path="url(#ca1)"/>
<text x="1436.8" y="561.5" font-size="14.5" fill="#434651" textLength="71.6" lengthAdjust="spacingAndGlyphs" clip-path="url(#ca1)" stroke="#434651" stroke-width="0.3">0.15000000</text>
<line x1="1426.5" y1="594.8" x2="1431.8" y2="594.8" stroke="#4f535f" stroke-width="1.2" clip-path="url(#ca1)"/>
<text x="1436.8" y="600.8" font-size="14.5" fill="#434651" textLength="71.6" lengthAdjust="spacingAndGlyphs" clip-path="url(#ca1)" stroke="#434651" stroke-width="0.3">0.10000000</text>
<line x1="1426.5" y1="636.9" x2="1431.8" y2="636.9" stroke="#4f535f" stroke-width="1.2" clip-path="url(#ca1)"/>
<text x="1436.8" y="643.3" font-size="14.5" fill="#434651" textLength="71.6" lengthAdjust="spacingAndGlyphs" clip-path="url(#ca1)" stroke="#434651" stroke-width="0.3">0.06500000</text>
<line x1="1426.5" y1="672.5" x2="1431.8" y2="672.5" stroke="#4f535f" stroke-width="1.2" clip-path="url(#ca2)"/>
<text x="1436.8" y="677.6" font-size="14.5" fill="#434651" textLength="71.6" lengthAdjust="spacingAndGlyphs" clip-path="url(#ca2)" stroke="#434651" stroke-width="0.3">0.00000000</text>
<line x1="1426.5" y1="724.2" x2="1431.8" y2="724.2" stroke="#4f535f" stroke-width="1.2" clip-path="url(#ca3)"/>
<text x="1436.8" y="729.8" font-size="14.5" fill="#434651" textLength="42" lengthAdjust="spacingAndGlyphs" clip-path="url(#ca3)" stroke="#434651" stroke-width="0.3">100.00</text>
<line x1="1426.5" y1="764.6" x2="1431.8" y2="764.6" stroke="#4f535f" stroke-width="1.2" clip-path="url(#ca3)"/>
<text x="1436.8" y="770.4" font-size="14.5" fill="#434651" textLength="34.6" lengthAdjust="spacingAndGlyphs" clip-path="url(#ca3)" stroke="#434651" stroke-width="0.3">50.00</text>
<rect x="1426" y="283.1" width="93.2" height="42.8" fill="#000"/>
<line x1="1426.1" y1="293.6" x2="1430.9" y2="293.6" stroke="#fff" stroke-width="1.2"/>
<text x="1436.8" y="298.7" font-size="14.5" fill="#fff" textLength="71.6" lengthAdjust="spacingAndGlyphs" stroke="#fff" stroke-width="0.3">2.20125556</text>
<rect x="1426" y="304" width="93.2" height="21.9" fill="#000"/>
<line x1="1426.1" y1="314.9" x2="1430.9" y2="314.9" stroke="#fff" stroke-width="1.2"/>
<text x="1436.8" y="320" font-size="14.5" fill="#fff" textLength="71.6" lengthAdjust="spacingAndGlyphs" stroke="#fff" stroke-width="0.3">1.87936427</text>
<rect x="1426" y="325.8" width="93.2" height="20.9" fill="#4caf50"/>
<line x1="1426.1" y1="336.5" x2="1430.9" y2="336.5" stroke="#fff" stroke-width="1.2"/>
<text x="1436.8" y="341.6" font-size="14.5" fill="#fff" textLength="71.6" lengthAdjust="spacingAndGlyphs" stroke="#fff" stroke-width="0.3">1.85379900</text>
<rect x="1462.6" y="348.3" width="56.6" height="21.1" fill="#4caf50"/>
<text x="1467.6" y="363.9" font-size="14.5" fill="#fff" textLength="41.6" lengthAdjust="spacingAndGlyphs" stroke="#fff" stroke-width="0.3">2d 11h</text>
<rect x="1426" y="396.4" width="93.2" height="21.2" fill="#ff9800"/>
<line x1="1426.1" y1="406.7" x2="1430.9" y2="406.7" stroke="#000" stroke-width="1.2"/>
<text x="1436.8" y="411.8" font-size="14.5" fill="#000" textLength="71.6" lengthAdjust="spacingAndGlyphs" stroke="#000" stroke-width="0.3">0.69093456</text>
<rect x="1426" y="609.1" width="65.9" height="20.8" fill="#4caf50"/>
<line x1="1426.1" y1="619.3" x2="1430.9" y2="619.3" stroke="#fff" stroke-width="1.2"/>
<text x="1436.8" y="624.4" font-size="14.5" fill="#fff" textLength="44.8" lengthAdjust="spacingAndGlyphs" stroke="#fff" stroke-width="0.3">5.731M</text>
<rect x="1426" y="632" width="93.2" height="21" fill="#f44336" clip-path="url(#ca2)"/>
<line x1="1426.1" y1="642.4" x2="1430.9" y2="642.4" stroke="#fff" stroke-width="1.2" clip-path="url(#ca2)"/>
<text x="1436.8" y="647.5" font-size="14.5" fill="#fff" textLength="71.6" lengthAdjust="spacingAndGlyphs" clip-path="url(#ca2)" stroke="#fff" stroke-width="0.3">0.21051313</text>
<rect x="1426" y="653" width="93.2" height="21.2" fill="#26a69a"/>
<line x1="1426.1" y1="664.1" x2="1430.9" y2="664.1" stroke="#fff" stroke-width="1.2"/>
<text x="1436.8" y="669.2" font-size="14.5" fill="#fff" textLength="71.6" lengthAdjust="spacingAndGlyphs" stroke="#fff" stroke-width="0.3">0.13858649</text>
<rect x="1426" y="728.3" width="55.5" height="21" fill="#9016a2"/>
<line x1="1426.1" y1="739" x2="1430.9" y2="739" stroke="#fff" stroke-width="1.2"/>
<text x="1436.8" y="744.1" font-size="14.5" fill="#fff" textLength="34.6" lengthAdjust="spacingAndGlyphs" stroke="#fff" stroke-width="0.3">82.98</text>
<text y="76.6" font-size="14"><tspan x="18.6" textLength="46.4" lengthAdjust="spacingAndGlyphs" font-weight="bold" fill="#4a4e5a">Bancor</tspan> <tspan x="71.6" font-weight="bold" fill="#4a4e5a">/</tspan> <tspan x="81.6" textLength="17.2" lengthAdjust="spacingAndGlyphs" font-weight="bold" fill="#4a4e5a">US</tspan> <tspan x="102.3" textLength="40.9" lengthAdjust="spacingAndGlyphs" font-weight="bold" fill="#4a4e5a">Dollar</tspan> <tspan x="149" textLength="74.5" lengthAdjust="spacingAndGlyphs" font-weight="bold" fill="#4a4e5a">(calculated</tspan> <tspan x="228.3" textLength="15.2" lengthAdjust="spacingAndGlyphs" font-weight="bold" fill="#4a4e5a">by</tspan> <tspan x="248.4" textLength="95.4" lengthAdjust="spacingAndGlyphs" font-weight="bold" fill="#4a4e5a">TradingView),</tspan> <tspan x="349.5" textLength="23.8" lengthAdjust="spacingAndGlyphs" font-weight="bold" fill="#4a4e5a">1W,</tspan> <tspan x="379.6" textLength="60.2" lengthAdjust="spacingAndGlyphs" font-weight="bold" fill="#4a4e5a">BINANCE</tspan></text>
<text y="19.5" font-size="14.7"><tspan x="7.6" textLength="99" lengthAdjust="spacingAndGlyphs" font-weight="bold" fill="#131722">CryptoTickerio</tspan> <tspan x="111.6" textLength="64.8" lengthAdjust="spacingAndGlyphs" fill="#131722" stroke="#131722" stroke-width="0.15">published</tspan> <tspan x="181.8" textLength="16.5" lengthAdjust="spacingAndGlyphs" fill="#131722" stroke="#131722" stroke-width="0.15">on</tspan> <tspan x="203.7" textLength="119.2" lengthAdjust="spacingAndGlyphs" fill="#131722" stroke="#131722" stroke-width="0.15">TradingView.com,</tspan> <tspan x="327.7" textLength="23.5" lengthAdjust="spacingAndGlyphs" fill="#131722" stroke="#131722" stroke-width="0.15">July</tspan> <tspan x="357" textLength="18.6" lengthAdjust="spacingAndGlyphs" fill="#131722" stroke="#131722" stroke-width="0.15">31,</tspan> <tspan x="381.4" textLength="31.3" lengthAdjust="spacingAndGlyphs" fill="#131722" stroke="#131722" stroke-width="0.15">2020</tspan> <tspan x="419" textLength="56.6" lengthAdjust="spacingAndGlyphs" fill="#131722" stroke="#131722" stroke-width="0.15">15:34:56</tspan> <tspan x="481.2" textLength="31.3" lengthAdjust="spacingAndGlyphs" fill="#131722" stroke="#131722" stroke-width="0.15">CEST</tspan></text>
<text y="39.7" font-size="14.7"><tspan x="7.6" textLength="126.4" lengthAdjust="spacingAndGlyphs" font-weight="bold" fill="#131722">BINANCE:BNTUSD,</tspan> <tspan x="139.5" textLength="22.7" lengthAdjust="spacingAndGlyphs" font-weight="bold" fill="#131722">1W</tspan> <tspan x="169.5" textLength="76.6" lengthAdjust="spacingAndGlyphs" fill="#131722" stroke="#131722" stroke-width="0.15">1.85379900</tspan> <tspan x="267.2" textLength="85.9" lengthAdjust="spacingAndGlyphs" fill="#131722" stroke="#131722" stroke-width="0.15">+0.15197782</tspan> <tspan x="358" textLength="57.6" lengthAdjust="spacingAndGlyphs" fill="#131722" stroke="#131722" stroke-width="0.15">(+8.93%)</tspan> <tspan x="422" textLength="14.7" lengthAdjust="spacingAndGlyphs" font-weight="bold" fill="#131722">O:</tspan> <tspan x="439.2" textLength="77.5" lengthAdjust="spacingAndGlyphs" fill="#26a69a" stroke="#26a69a" stroke-width="0.15">1.43392590</tspan> <tspan x="522.3" textLength="13.6" lengthAdjust="spacingAndGlyphs" font-weight="bold" fill="#131722">H:</tspan> <tspan x="539.1" textLength="77.3" lengthAdjust="spacingAndGlyphs" fill="#26a69a" stroke="#26a69a" stroke-width="0.15">1.97769374</tspan> <tspan x="622" textLength="10.6" lengthAdjust="spacingAndGlyphs" font-weight="bold" fill="#131722">L:</tspan> <tspan x="636" textLength="76.7" lengthAdjust="spacingAndGlyphs" fill="#26a69a" stroke="#26a69a" stroke-width="0.15">1.19215174</tspan> <tspan x="718.3" textLength="12.9" lengthAdjust="spacingAndGlyphs" font-weight="bold" fill="#131722">C:</tspan> <tspan x="734" textLength="77.5" lengthAdjust="spacingAndGlyphs" fill="#26a69a" stroke="#26a69a" stroke-width="0.15">1.85379900</tspan></text>
<polygon points="250.2,39.6 262.7,39.6 256.45,28.4" fill="#26a69a"/>
<g><path d="M11.2,853.7 C8.6,853.7 6.9,851.3 6.9,848.4 C6.9,845.2 9.4,842.9 12.9,842.6 C13.4,838.5 16.5,835.4 20.4,835.4 C23.8,835.4 26.5,837.6 27.5,840.9 C28.4,840.4 29.6,840.2 30.8,840.2 C33.2,840.2 34.9,841.6 35.2,843.9 C37,845 38.1,846.7 38.1,848.8 C38.1,851.6 36.2,853.7 33.4,853.7 Z" fill="#2196f3"/><polyline points="7.9,850.5 18.75,842.5 26,849.1 33.4,841.9" fill="none" stroke="#fff" stroke-width="1.3"/><circle cx="18.75" cy="842.4" r="1.9" fill="#fff"/><circle cx="26" cy="849.1" r="2.1" fill="#fff"/></g>
<text x="39.9" y="848.9" font-size="14.8" fill="#151924" textLength="84.2" lengthAdjust="spacingAndGlyphs" stroke="#151924" stroke-width="0.2">TradingView</text>
</svg>
</body></html>
